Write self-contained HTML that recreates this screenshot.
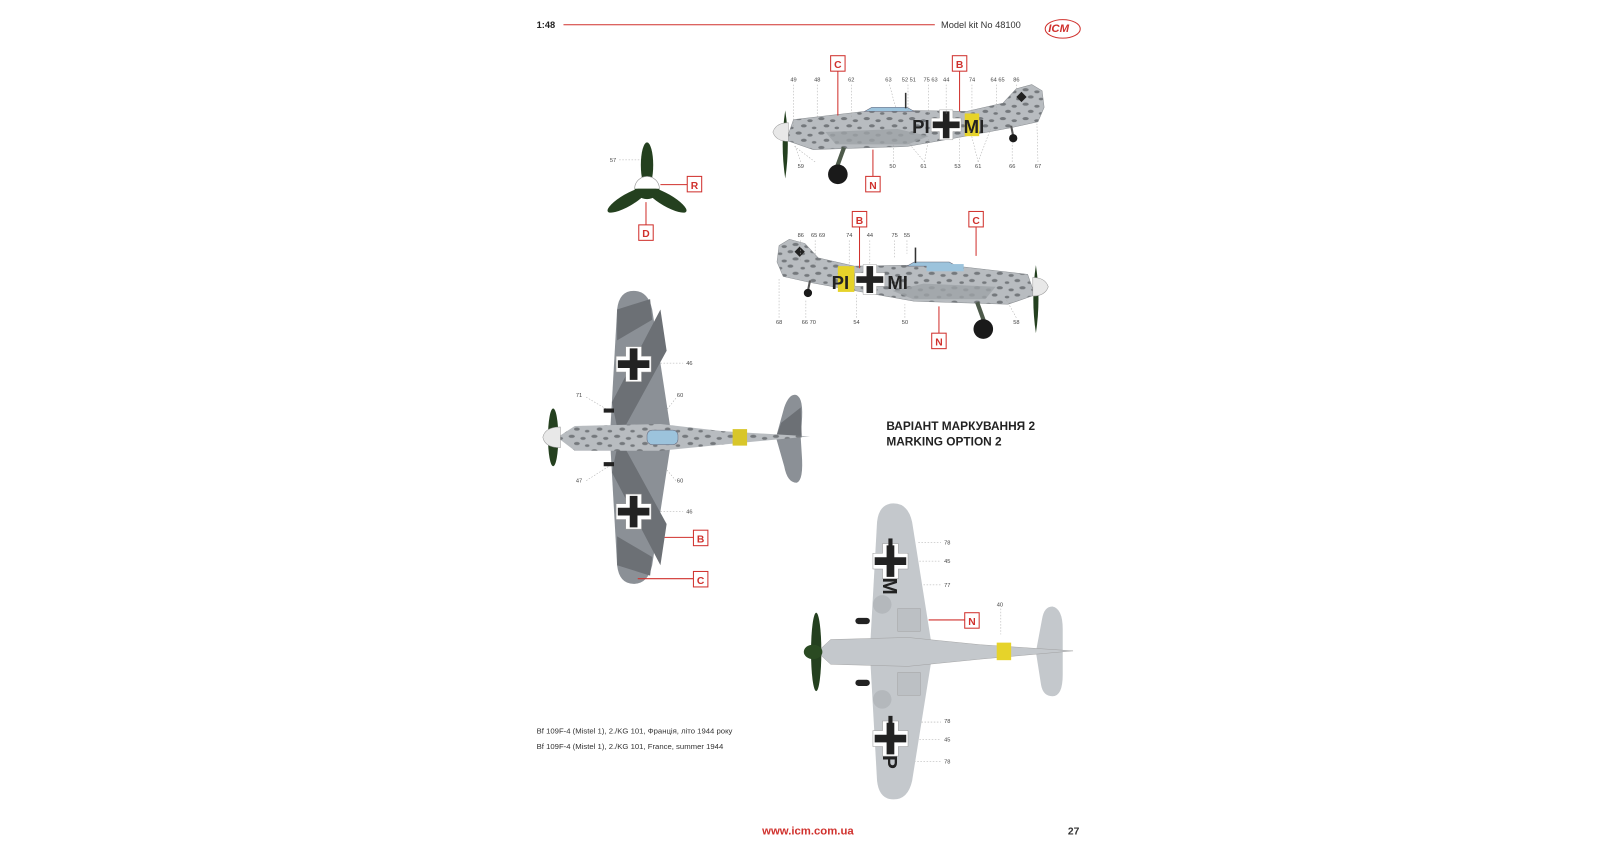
<!DOCTYPE html>
<html><head><meta charset="utf-8"><style>
html,body{margin:0;padding:0;background:#fff;}
svg{display:block;}
text{font-family:"Liberation Sans",sans-serif;}
</style></head><body>
<svg width="1620" height="851" viewBox="0 0 1570 825" xmlns="http://www.w3.org/2000/svg">
<defs>
<pattern id="mot" width="22" height="14" patternUnits="userSpaceOnUse">
<rect width="22" height="14" fill="#b8bcc0"/>
<ellipse cx="4" cy="3" rx="3" ry="1.5" fill="#74787c"/>
<ellipse cx="15" cy="5" rx="2.6" ry="1.4" fill="#74787c"/>
<ellipse cx="9" cy="10" rx="2.8" ry="1.5" fill="#74787c"/>
<ellipse cx="19" cy="12" rx="2.2" ry="1.3" fill="#74787c"/>
</pattern>
<g id="side">
<path d="M762,136 L769,116 L838,108 L845,106 L879,107 L937,108 L972,100 L985,86 L1000,82 L1010,88 L1012,104 L1006,118 L979,124 L930,133 L879,142 L788,145 Z" fill="url(#mot)" stroke="#8a8e92" stroke-width="0.5"/>
<path d="M838,108 L845,104 L879,104 L886,108 Z" fill="#9cc3dc" stroke="#667" stroke-width="0.5"/>
<rect x="877" y="90" width="1.5" height="15" fill="#333"/>
<path d="M800,128 L870,125 L900,132 L880,140 L810,140 Z" fill="#9ea2a6" opacity="0.8"/>
<path d="M985,94 l5,-5 l5,5 l-5,5 Z" fill="#222"/>
<path d="M818,143 L810,165" stroke="#4d5a4a" stroke-width="4"/>
<circle cx="812" cy="169" r="9.5" fill="#1a1a1a"/>
<path d="M980,122 L982,132" stroke="#555" stroke-width="2"/>
<circle cx="982" cy="134" r="4" fill="#1a1a1a"/>
<path d="M761,107 Q766,140 761,173 Q756,140 761,107 Z" fill="#24401f"/>
<path d="M749,128 Q752,119 764,119 L764,137 Q752,137 749,128 Z" fill="#e8e8e8" stroke="#999" stroke-width="0.5"/>
</g>
<g id="crossw"><path d="M-4.5,-10 h9 v5.5 h5.5 v9 h-5.5 v5.5 h-9 v-5.5 h-5.5 v-9 h5.5 Z" fill="#fff" stroke="#999" stroke-width="0.3"/><path d="M-2.2,-9 h4.4 v6.8 h6.8 v4.4 h-6.8 v6.8 h-4.4 v-6.8 h-6.8 v-4.4 h6.8 Z" fill="#222"/></g>
</defs>

<!-- header -->
<text x="520" y="27" font-size="9" font-weight="bold" fill="#222">1:48</text>
<line x1="546" y1="24" x2="906" y2="24" stroke="#d0312d" stroke-width="1"/>
<text x="912" y="27" font-size="9" fill="#333">Model kit No 48100</text>
<ellipse cx="1030" cy="28" rx="17" ry="9" fill="none" stroke="#d0312d" stroke-width="1"/>
<text x="1016" y="31" font-size="11" font-weight="bold" font-style="italic" fill="#d0312d">ICM</text>

<!-- side view 1 -->
<use href="#side"/>
<rect x="935" y="110" width="14" height="22" fill="#e6d32a"/>
<text x="884" y="129" font-size="18" font-weight="bold" fill="#222">PI</text>
<use href="#crossw" transform="translate(917 121) scale(1.45)"/>
<text x="934" y="129" font-size="18" font-weight="bold" fill="#222">MI</text>
<!-- side view 2 (mirrored) -->
<use href="#side" transform="translate(1765 150) scale(-1 1)"/>
<rect x="812" y="258" width="16" height="25" fill="#e6d32a"/>
<rect x="898" y="256" width="36" height="7" fill="#9cc3dc"/>
<text x="806" y="280" font-size="18" font-weight="bold" fill="#222">PI</text>
<use href="#crossw" transform="translate(843 271) scale(1.45)"/>
<text x="860" y="280" font-size="18" font-weight="bold" fill="#222">MI</text>

<!-- numbers -->
<g font-size="5.5" fill="#444">
<text x="766" y="79">49</text><text x="789" y="79">48</text><text x="822" y="79">62</text><text x="858" y="79">63</text><text x="874" y="79">52 51</text><text x="895" y="79">75 63</text><text x="914" y="79">44</text><text x="939" y="79">74</text><text x="960" y="79">64 65</text><text x="982" y="79">86</text>
<text x="773" y="163">59</text><text x="862" y="163">50</text><text x="892" y="163">61</text><text x="925" y="163">53</text><text x="945" y="163">61</text><text x="978" y="163">66</text><text x="1003" y="163">67</text>
<text x="773" y="230">86</text><text x="786" y="230">65 69</text><text x="820" y="230">74</text><text x="840" y="230">44</text><text x="864" y="230">75</text><text x="876" y="230">55</text>
<text x="752" y="314">68</text><text x="777" y="314">66 70</text><text x="827" y="314">54</text><text x="874" y="314">50</text><text x="982" y="314">58</text>
<text x="591" y="157">57</text>
<text x="665" y="354">46</text><text x="558" y="385">71</text><text x="656" y="385">60</text><text x="558" y="468">47</text><text x="656" y="468">60</text><text x="665" y="498">46</text>
<text x="915" y="528">78</text><text x="915" y="546">45</text><text x="915" y="569">77</text><text x="966" y="588">40</text><text x="915" y="701">78</text><text x="915" y="719">45</text><text x="915" y="740">78</text>
</g>
<g stroke="#aaa" stroke-width="0.5" stroke-dasharray="1.5 1.5" fill="none">
<path d="M769,82V125M792,82V118M825,82V114M862,82L868,104M880,82V108M900,82V110M917,82V110M942,82V110M966,82V108M985,82V90"/>
<path d="M776,157L770,140M790,157L770,142M866,157V138M896,157L880,138M896,157L900,134M930,157V130M948,157L940,125M948,157L960,125M981,157V138M1006,157L1005,120"/>
<path d="M776,233V254M790,233V258M823,233V260M843,233V256M867,233V250M879,233V246M755,308V270M781,308V290M830,308V285M877,308V295M985,308L975,290"/>
<path d="M600,155H622M625,352H662M568,385L590,398M655,386L640,405M568,466L590,452M655,466L640,448M625,496H662M890,526H912M885,544H912M880,567H912M970,590V615M890,700H912M885,717H912M880,738H912"/>
</g>

<!-- prop front -->
<g>
<ellipse cx="627" cy="160" rx="6" ry="22" fill="#24401f"/>
<ellipse cx="608" cy="194" rx="22" ry="6" transform="rotate(-30 608 194)" fill="#24401f"/>
<ellipse cx="646" cy="194" rx="22" ry="6" transform="rotate(30 646 194)" fill="#24401f"/>
<path d="M615,183 A12,12 0 0 1 639,183" fill="#fff" stroke="#999" stroke-width="0.6"/>
<path d="M615,183 A12,10 0 0 0 639,183 Z" fill="#24401f"/>
</g>

<!-- top view -->
<g>
<path d="M591,424 L598,300 Q600,282 614,282 Q628,282 632,300 L651,424 L632,548 Q628,566 614,566 Q600,566 598,548 Z" fill="#8b9096"/>
<path d="M593,390 L640,300 L646,340 L600,424 Z" fill="#6c7075"/>
<path d="M598,300 L630,290 L632,310 L598,330Z" fill="#6c7075"/>
<path d="M593,458 L640,548 L646,508 L600,424 Z" fill="#6c7075"/>
<path d="M598,548 L630,558 L632,540 L598,520Z" fill="#6c7075"/>
<path d="M760,395 Q765,381 772,383 Q779,386 777,410 L776,424 L777,440 Q779,466 772,468 Q763,468 760,452 L752,424 Z" fill="#8b9096"/>
<path d="M757,410 L776,395 L777,424 L752,424Z" fill="#6c7075"/>
<path d="M540,424 L557,413 L640,411 L700,418 L785,423 L700,431 L640,437 L557,437 Z" fill="url(#mot)"/>
<rect x="627" y="417" width="30" height="14" rx="5" fill="#9cc3dc" stroke="#667" stroke-width="0.5"/>
<rect x="710" y="416" width="14" height="16" fill="#d8c62a"/>
<path d="M585,400 h10 v-4 h-10 z M585,452 h10 v-4 h-10 z" fill="#222"/>
<ellipse cx="536" cy="424" rx="5" ry="28" fill="#24401f"/>
<path d="M526,424 Q528,414 543,414 L543,434 Q528,434 526,424Z" fill="#e8e8e8" stroke="#999" stroke-width="0.5"/>
<use href="#crossw" transform="translate(614 353) scale(1.7)"/>
<use href="#crossw" transform="translate(614 496) scale(1.7)"/>
</g>

<!-- bottom view -->
<g>
<path d="M843,632 L850,506 Q852,488 866,488 Q880,488 884,506 L904,632 L884,757 Q880,775 866,775 Q852,775 850,757 Z" fill="#c4c8cc"/>
<path d="M1010,600 Q1012,588 1020,588 Q1030,590 1030,610 L1030,654 Q1030,675 1020,675 Q1011,675 1009,664 L1004,632 Z" fill="#c4c8cc"/>
<path d="M792,632 L805,620 L880,618 L950,625 L1040,631 L950,639 L880,646 L805,644 Z" fill="#c4c8cc" stroke="#999" stroke-width="0.4"/>
<rect x="966" y="623" width="14" height="17" fill="#e6d32a"/>
<circle cx="855" cy="586" r="9" fill="#b4b8bc"/><circle cx="855" cy="678" r="9" fill="#b4b8bc"/>
<rect x="870" y="590" width="22" height="22" fill="#bcc0c4" stroke="#999" stroke-width="0.4"/>
<rect x="870" y="652" width="22" height="22" fill="#bcc0c4" stroke="#999" stroke-width="0.4"/>
<rect x="829" y="599" width="14" height="6" rx="3" fill="#222"/><rect x="829" y="659" width="14" height="6" rx="3" fill="#222"/>
<ellipse cx="791" cy="632" rx="5" ry="38" fill="#24401f"/>
<ellipse cx="788" cy="632" rx="9" ry="7" fill="#2a4a22"/>
<use href="#crossw" transform="translate(863 544) scale(1.7)"/>
<use href="#crossw" transform="translate(863 716) scale(1.7)"/>
<text x="0" y="0" font-size="20" font-weight="bold" fill="#222" transform="translate(856 560) rotate(90)">M</text>
<rect x="861" y="522" width="4" height="12" fill="#222"/>
<rect x="861" y="694" width="4" height="12" fill="#222"/>
<text x="0" y="0" font-size="20" font-weight="bold" fill="#222" transform="translate(856 732) rotate(90)">P</text>
</g>

<!-- red callouts -->
<g stroke="#d0312d" stroke-width="1" fill="none">
<path d="M812,68V112M930,68V108M833,219V260M946,219V248M846,173V145M910,323V297M626,219V196M666,179H640M672,521H644M672,561H618M935,601H900"/>
</g>
<g font-size="10" font-weight="bold" fill="#d0312d" text-anchor="middle">
<g><rect x="805" y="54" width="14" height="15" fill="#fff" stroke="#d0312d"/><text x="812" y="66">C</text></g>
<g><rect x="923" y="54" width="14" height="15" fill="#fff" stroke="#d0312d"/><text x="930" y="66">B</text></g>
<g><rect x="839" y="171" width="14" height="15" fill="#fff" stroke="#d0312d"/><text x="846" y="183">N</text></g>
<g><rect x="666" y="171" width="14" height="15" fill="#fff" stroke="#d0312d"/><text x="673" y="183">R</text></g>
<g><rect x="619" y="218" width="14" height="15" fill="#fff" stroke="#d0312d"/><text x="626" y="230">D</text></g>
<g><rect x="826" y="205" width="14" height="15" fill="#fff" stroke="#d0312d"/><text x="833" y="217">B</text></g>
<g><rect x="939" y="205" width="14" height="15" fill="#fff" stroke="#d0312d"/><text x="946" y="217">C</text></g>
<g><rect x="903" y="323" width="14" height="15" fill="#fff" stroke="#d0312d"/><text x="910" y="335">N</text></g>
<g><rect x="672" y="514" width="14" height="15" fill="#fff" stroke="#d0312d"/><text x="679" y="526">B</text></g>
<g><rect x="672" y="554" width="14" height="15" fill="#fff" stroke="#d0312d"/><text x="679" y="566">C</text></g>
<g><rect x="935" y="594" width="14" height="15" fill="#fff" stroke="#d0312d"/><text x="942" y="606">N</text></g>
</g>

<!-- titles -->
<text x="859" y="417" font-size="11.5" font-weight="bold" fill="#222">ВАРІАНТ МАРКУВАННЯ 2</text>
<text x="859" y="432" font-size="11.5" font-weight="bold" fill="#222">MARKING OPTION 2</text>
<text x="520" y="711" font-size="7.5" fill="#333">Bf 109F-4 (Mistel 1), 2./KG 101, Франція, літо 1944 року</text>
<text x="520" y="726" font-size="7.5" fill="#333">Bf 109F-4 (Mistel 1), 2./KG 101, France, summer 1944</text>
<text x="783" y="809" font-size="11" font-weight="bold" fill="#d0312d" text-anchor="middle">www.icm.com.ua</text>
<text x="1035" y="809" font-size="10" font-weight="bold" fill="#333">27</text>
</svg>
</body></html>
